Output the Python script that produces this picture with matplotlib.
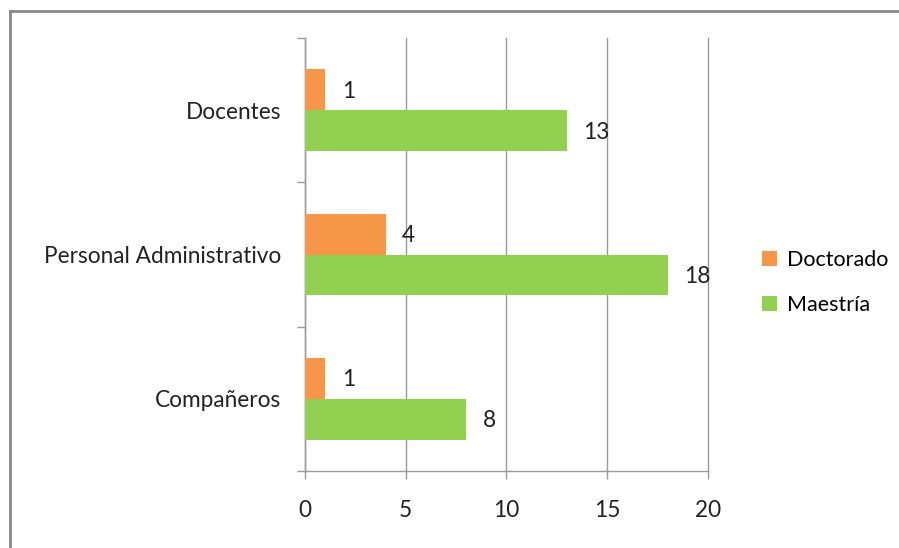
import matplotlib
matplotlib.use("Agg")
import matplotlib.pyplot as plt
from matplotlib.lines import Line2D
import numpy as np

categories = ["Compañeros", "Personal Administrativo", "Docentes"]
doctorado = [1, 4, 1]
maestria = [8, 18, 13]
series_names = ["Doctorado", "Maestría"]
x_ticks = [0, 5, 10, 15, 20]

orange = "#F79646"
green = "#92D050"
grey = "#9a9a9a"
fs = 16.3

plt.rcParams["font.family"] = ["Lato", "DejaVu Sans"]

fig = plt.figure(figsize=(8.99, 5.48), dpi=100)
ax = fig.add_axes([0.3393, 0.1405, 0.448, 0.790])

y = np.arange(len(categories))
h = 0.283
b1 = ax.barh(y + h / 2, doctorado, height=h, color=orange, label=series_names[0], zorder=3)
b2 = ax.barh(y - h / 2, maestria, height=h, color=green, label=series_names[1], zorder=3)

for bars, vals in ((b1, doctorado), (b2, maestria)):
    for rect, v in zip(bars, vals):
        ax.annotate(str(v), (rect.get_width(), rect.get_y() + rect.get_height() / 2),
                    xytext=(12, -1), textcoords="offset points",
                    ha="left", va="center", fontsize=fs, color="#222222")

ax.set_xlim(0, 20)
ax.set_ylim(-0.5, 2.5)
ax.set_xticks(x_ticks)
ax.set_xticklabels([str(t) for t in x_ticks], fontsize=fs, color="#222222")
ax.set_yticks(y)
ax.set_yticklabels(categories, fontsize=fs, color="#222222")
ax.set_yticks(np.arange(-0.5, 2.6, 1), minor=True)
ax.tick_params(axis="y", which="major", length=0, pad=17)
ax.tick_params(axis="y", which="minor", length=6, color=grey, width=1)
ax.tick_params(axis="x", length=6, color=grey, width=1, pad=15)

ax.grid(axis="x", color=grey, linewidth=1, zorder=0)
for gl in ax.get_xgridlines():
    gl.set_clip_on(False)
for s in ("top", "right"):
    ax.spines[s].set_visible(False)
for s in ("left", "bottom"):
    ax.spines[s].set_color(grey)
    ax.spines[s].set_linewidth(1)

fig.legend(handles=[b1, b2], loc="center left", bbox_to_anchor=(0.8476, 0.485),
           frameon=False, fontsize=15.5, handlelength=0.7, handleheight=0.7,
           handletextpad=0.45, labelspacing=1.15, borderpad=0, borderaxespad=0)

# frame of the original chart area (only left and top visible)
fig.add_artist(Line2D([0.0112, 0.0112], [0.0, 0.980], transform=fig.transFigure,
                      color="#888888", linewidth=2))
fig.add_artist(Line2D([0.0112, 1.0], [0.980, 0.980], transform=fig.transFigure,
                      color="#888888", linewidth=2))

fig.savefig("out.png", dpi=100)
